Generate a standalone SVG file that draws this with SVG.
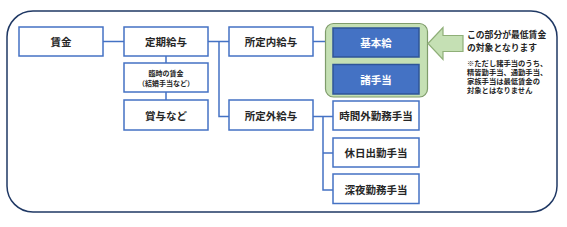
<svg xmlns="http://www.w3.org/2000/svg" width="567" height="227" viewBox="0 0 567 227">
<style>
.box{fill:#fff;stroke:#4472C4;stroke-width:1.5}
.dark{fill:#4472C4;stroke:#2F5597;stroke-width:1.5}
.t{font-family:"Noto Sans CJK JP","Noto Sans",sans-serif;font-weight:bold;font-size:10.5px;fill:#262626;text-anchor:middle;dominant-baseline:central}
.tw{fill:#fff}
.s{font-size:7px}
.n{font-family:"Noto Sans CJK JP","Noto Sans",sans-serif;font-weight:bold;fill:#262626}
.c{fill:none;stroke:#4472C4;stroke-width:1.5}
</style>
<rect x="0" y="0" width="567" height="227" fill="#fff"/>
<rect id="frame" x="7" y="11" width="550" height="201" rx="26" fill="#fff" stroke="#1F3864" stroke-width="1.5"/>
<g id="connectors">
<path class="c" d="M103 41.5H124"/>
<path class="c" d="M166 56V63M166 92V100"/>
<path class="c" d="M208 41.5H229M219 41.5V116.5H229"/>
<path class="c" d="M313 41.5H333"/>
<path class="c" d="M313 116.5H333M323 116.5V190H333M323 153H333"/>
<path d="M377 58V64" fill="none" stroke="#A9C49A" stroke-width="1.5"/>
</g>
<g id="green-group"><rect x="325.5" y="23.5" width="102" height="73.5" rx="8" fill="#C5E0B4" stroke="#7F9C6B" stroke-width="1.2"/></g>
<g id="chingin"><rect class="box" x="19" y="27" width="84" height="29"/><text class="t" x="61" y="41.5">賃金</text></g>
<g id="teiki"><rect class="box" x="124" y="27" width="84" height="29"/><text class="t" x="166" y="41.5">定期給与</text></g>
<g id="rinji"><rect class="box" x="124" y="63" width="84" height="29"/><text class="t s" x="166" y="72.5">臨時の賃金</text><text class="t s" x="166" y="82.5">（結婚手当など）</text></g>
<g id="shoyo"><rect class="box" x="124" y="100" width="84" height="30"/><text class="t" x="166" y="115">賞与など</text></g>
<g id="shoteinai"><rect class="box" x="229" y="27" width="84" height="29"/><text class="t" x="271" y="41.5">所定内給与</text></g>
<g id="shoteigai"><rect class="box" x="229" y="100" width="84" height="30"/><text class="t" x="271" y="115">所定外給与</text></g>
<g id="kihonkyu"><rect class="dark" x="333" y="28" width="86" height="29"/><text class="t tw" x="376" y="42.5">基本給</text></g>
<g id="shoteate"><rect class="dark" x="333" y="64.5" width="86" height="29.5"/><text class="t tw" x="376" y="79">諸手当</text></g>
<g id="jikangai"><rect class="box" x="333" y="101" width="86" height="29"/><text class="t" x="376" y="115.5">時間外勤務手当</text></g>
<g id="kyujitsu"><rect class="box" x="333" y="138" width="86" height="29"/><text class="t" x="376" y="152.5">休日出勤手当</text></g>
<g id="shinya"><rect class="box" x="333" y="174" width="86" height="29.5"/><text class="t" x="376" y="189">深夜勤務手当</text></g>
<g id="arrow"><path d="M428 43.5L443 27.5V35.5H463V51.5H443V59.5Z" fill="#C5E0B4" stroke="#8FAF78" stroke-width="1.2"/></g>
<g id="note">
<text class="n" font-size="8.8" x="467" y="38">この部分が最低賃金</text>
<text class="n" font-size="8.8" x="467" y="50.5">の対象となります</text>
<text class="n" font-size="7.3" x="467" y="65.5">※ただし諸手当のうち、</text>
<text class="n" font-size="7.3" x="467" y="74.5">精皆勤手当、通勤手当、</text>
<text class="n" font-size="7.3" x="467" y="83.5">家族手当は最低賃金の</text>
<text class="n" font-size="7.3" x="467" y="92.5">対象とはなりません</text>
</g>
</svg>
